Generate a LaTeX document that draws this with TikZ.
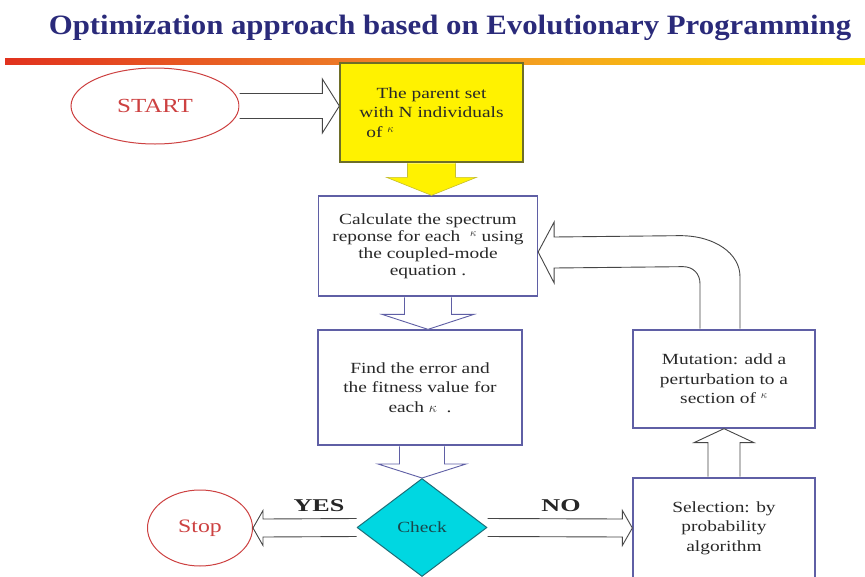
\documentclass[tikz,border=0pt]{standalone}
\usepackage{fontspec}
\setmainfont{Liberation Serif}[FakeStretch=1.25]
\newfontfamily\titlefont{Liberation Serif}[FakeStretch=1.1]
\newfontfamily\lblfont{Liberation Serif}[FakeStretch=1.45]
\usetikzlibrary{shapes.geometric,calc}
\definecolor{navy}{RGB}{42,42,122}
\definecolor{boxline}{RGB}{95,95,165}
\definecolor{arrgray}{RGB}{70,70,70}
\definecolor{termred}{RGB}{205,65,65}
\definecolor{cyanfill}{RGB}{0,215,225}
\definecolor{cyanline}{RGB}{30,110,120}
\definecolor{yelline}{RGB}{110,110,40}
\definecolor{txtgray}{RGB}{40,40,40}
\begin{document}
\begin{tikzpicture}[x=1pt,y=-1pt,
  bodytext/.style={font=\fontsize{15.5}{19.5}\selectfont, text=txtgray, align=center},
  procbox/.style={bodytext, draw=boxline, line width=1.3pt, fill=white, inner sep=0pt},
  terminal/.style={ellipse, draw=termred, line width=1pt, text=termred, inner sep=0pt},
  blockarr/.style={draw=arrgray, fill=white, line width=0.9pt, line join=miter},
  bluearr/.style={draw=boxline, fill=white, line width=0.9pt},
  yesno/.style={font=\lblfont\bfseries\fontsize{18}{20}\selectfont, text=black!85}
]
\useasboundingbox (0,0) rectangle (865,576);
\fill[white] (0,0) rectangle (865,576);

% title and bar
\node[font=\titlefont\bfseries\fontsize{28}{32}\selectfont, text=navy] (title) at (450,28)
  {Optimization approach based on Evolutionary Programming};
\shade[left color={rgb,255:red,225;green,50;blue,30}, right color={rgb,255:red,255;green,225;blue,0},
  middle color={rgb,255:red,240;green,140;blue,40}] (5,58) rectangle (865,64);

% nodes
\node[terminal, minimum width=168, minimum height=76, font=\fontsize{20}{24}\selectfont] (start) at (155,106) {START};
\node[bodytext, draw=yelline, fill=yellow, line width=1.3pt, minimum width=183, minimum height=99, inner sep=0pt] (parent) at (431.5,112.5)
  {The parent set\\with N individuals\\\makebox[9.6em][l]{\hspace*{0.6em}of $^{\kappa}$}};
\node[procbox, minimum width=219, minimum height=100, font=\fontsize{15.5}{17}\selectfont] (calc) at (428,246)
  {Calculate the spectrum\\reponse for each \ $^{\kappa}$ using\\the coupled-mode\\equation .};
\node[procbox, minimum width=204, minimum height=115] (find) at (420,387.5)
  {Find the error and\\the fitness value for\\each $\kappa$ \ .};
\node[diamond, draw=cyanline, fill=cyanfill, line width=1pt, minimum width=130, minimum height=98, inner sep=0pt,
  font=\fontsize{15.5}{18}\selectfont, text={rgb,255:red,25;green,70;blue,75}] (check) at (422,527.5) {Check};
\node[terminal, minimum width=105, minimum height=76, font=\fontsize{19}{22}\selectfont] (stop) at (200,528) {Stop};
\node[procbox, minimum width=182, minimum height=100] (sel) at (724,528)
  {Selection: by\\probability\\algorithm};
\node[procbox, minimum width=182, minimum height=98] (mut) at (724,379)
  {Mutation: add a\\perturbation to a\\section of $^{\kappa}$};

% START -> parent
\coordinate (a1) at (parent.west |- start.east);
\path[blockarr] ($(start.east)+(0,-12.5)$) -- ($(a1)+(-17,-12.5)$) -- ($(a1)+(-17,-27)$) -- (a1)
  -- ($(a1)+(-17,27)$) -- ($(a1)+(-17,12.5)$) -- ($(start.east)+(0,12.5)$);

% parent -> calc (yellow)
\coordinate (a2) at (parent.south |- calc.north);
\path[draw=yellow!75!black, fill=yellow, line width=0.6pt] ($(parent.south)+(-24,0.7)$) -- ($(a2)+(-24,-18)$) -- ($(a2)+(-45,-18)$) -- (a2)
  -- ($(a2)+(45,-18)$) -- ($(a2)+(24,-18)$) -- ($(parent.south)+(24,0.7)$);

% calc -> find
\coordinate (a3) at (calc.south |- find.north);
\path[bluearr] ($(calc.south)+(-23.5,0.7)$) -- ($(a3)+(-23.5,-15)$) -- ($(a3)+(-46,-15)$) -- (a3)
  -- ($(a3)+(46,-15)$) -- ($(a3)+(23.5,-15)$) -- ($(calc.south)+(23.5,0.7)$);

% find -> check
\coordinate (a4) at (check.north);
\path[bluearr] ($(find.south -| a4)+(-22.5,0.7)$) -- ($(a4)+(-22.5,-14)$) -- ($(a4)+(-44,-14)$) -- (a4)
  -- ($(a4)+(44,-14)$) -- ($(a4)+(22.5,-14)$) -- ($(find.south -| a4)+(22.5,0.7)$);

% check -> stop (YES)
\coordinate (a5) at (stop.east);
\path[blockarr] ($(check.west)+(0,-9)$) -- ($(a5)+(10,-9)$) -- ($(a5)+(10,-17.5)$) -- (a5)
  -- ($(a5)+(10,17.5)$) -- ($(a5)+(10,9)$) -- ($(check.west)+(0,9)$);
\node[yesno] (yes) at (319,506) {YES};

% check -> selection (NO)
\coordinate (a6) at (sel.west);
\path[blockarr] ($(check.east)+(0,-9)$) -- ($(a6)+(-10,-9)$) -- ($(a6)+(-10,-17.5)$) -- (a6)
  -- ($(a6)+(-10,17.5)$) -- ($(a6)+(-10,9)$) -- ($(check.east)+(0,9)$);
\node[yesno] (no) at (561,506) {NO};

% selection -> mutation
\coordinate (a7) at (mut.south);
\path[blockarr] ($(sel.north)+(-16,-0.7)$) -- ($(a7)+(-16,14)$) -- ($(a7)+(-30,14)$) -- (a7)
  -- ($(a7)+(30,14)$) -- ($(a7)+(16,14)$) -- ($(sel.north)+(16,-0.7)$);

% mutation -> calc (curved)
\coordinate (i1) at ($(mut.north)+(-24,-0.7)$);
\coordinate (o1) at ($(mut.north)+(16,-0.7)$);
\coordinate (a8) at ($(calc.east)+(0,6)$);
\path[blockarr] (i1) -- ($(i1)+(0,-45)$) .. controls ($(i1)+(0,-55)$) and ($(i1)+(-7,-62)$) .. ($(i1)+(-17,-62)$)
  -- ($(a8)+(16,16)$) -- ($(a8)+(16,31)$) -- (a8) -- ($(a8)+(16,-30)$) -- ($(a8)+(16,-15)$)
  -- ($(o1)+(-60,-93)$) .. controls ($(o1)+(-25,-93)$) and ($(o1)+(0,-75)$) .. ($(o1)+(0,-52)$) -- (o1);
\end{tikzpicture}
\end{document}
